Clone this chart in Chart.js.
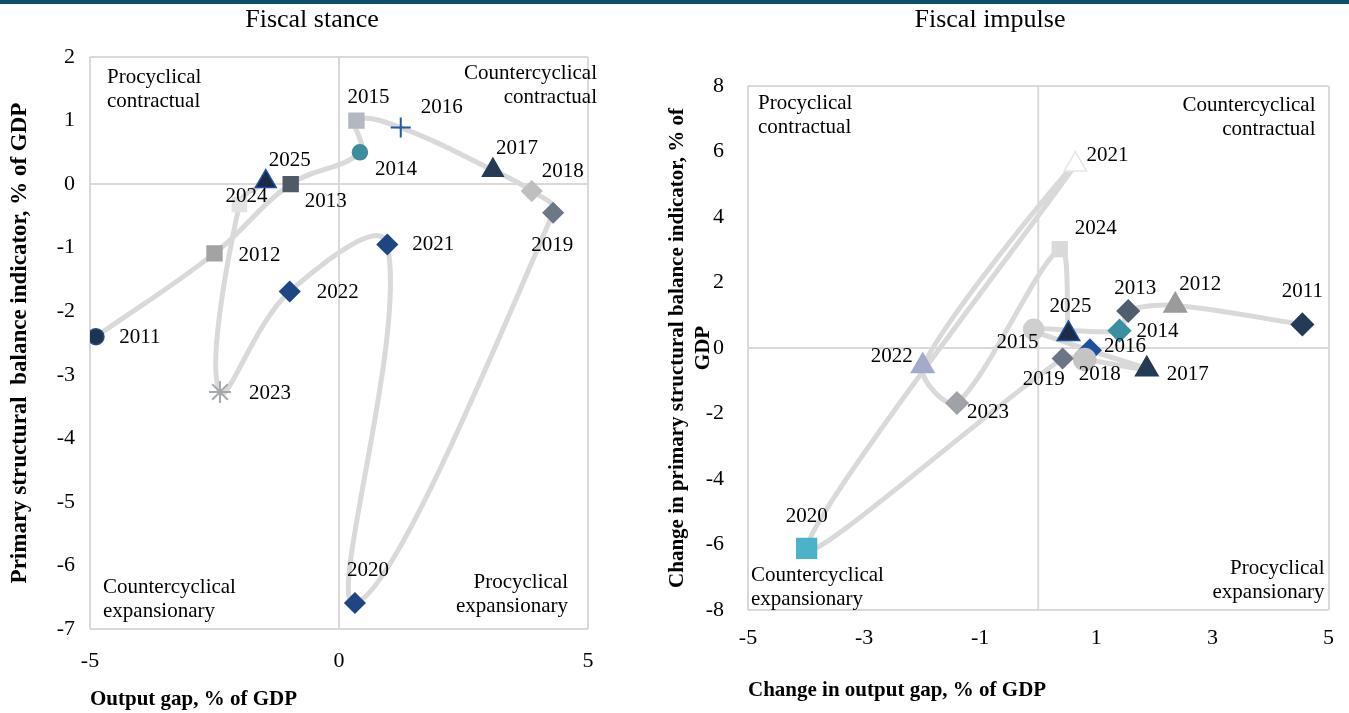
<!DOCTYPE html>
<html lang="en">
<head>
  <meta charset="UTF-8" />
  <title>Fiscal stance and fiscal impulse</title>
  <script src="https://cdn.jsdelivr.net/npm/chart.js"></script>
  <style>
    body { margin: 0; background: #fff; overflow: hidden; }
    .topbar { position: absolute; left: 0; top: 0; width: 1349px; height: 4px; background: #0d4e6c; }
    .panel { position: absolute; top: 0; height: 713px; }
    #stanceBox { left: 0; width: 624px; }
    #impulseBox { left: 632px; width: 717px; }
  </style>
</head>
<body>
  <div class="topbar"></div>
  <div class="panel" id="stanceBox"><canvas id="stanceChart"></canvas></div>
  <div class="panel" id="impulseBox"><canvas id="impulseChart"></canvas></div>

  <script>
    const years = ['2011', '2012', '2013', '2014', '2015', '2016', '2017', '2018',
                   '2019', '2020', '2021', '2022', '2023', '2024', '2025'];

    // Fiscal stance: output gap vs primary structural balance
    const stanceGap     = [-4.88, -2.50, -0.97, 0.42, 0.35, 1.24, 3.09, 3.87, 4.30, 0.32, 0.97, -0.99, -2.39, -2.00, -1.47];
    const stanceBalance = [-2.40, -1.09, 0.00, 0.50, 1.00, 0.89, 0.22, -0.11, -0.45, -6.59, -0.95, -1.69, -3.27, -0.32, 0.04];

    // Fiscal impulse: change in output gap vs change in primary structural balance
    const impulseGap     = [4.55, 2.36, 1.55, 1.40, -0.08, 0.89, 1.87, 0.80, 0.42, -3.99, 0.64, -1.99, -1.40, 0.37, 0.52];
    const impulseBalance = [0.72, 1.30, 1.13, 0.53, 0.57, -0.07, -0.65, -0.35, -0.32, -6.12, 5.60, -0.55, -1.68, 3.02, 0.43];

    // marker looks per year
    const stanceShapes = ['circle', 'rect', 'rect', 'circle', 'rect', 'cross', 'triangle', 'rectRot',
                          'rectRot', 'rectRot', 'rectRot', 'rectRot', 'star', 'rect', 'triangle'];
    const stanceFills  = ['#1e3352', '#a3a3a3', '#4f5a66', '#3b8e9e', '#b3b7bf', '#2456a6', '#253b55', '#bfbfbf',
                          '#6c7787', '#1f4585', '#1f4585', '#1f4585', '#a5a8ad', '#e3e3e3', '#1b2b46'];
    const stanceEdges  = ['#2a4a80', '#a3a3a3', '#4f5a66', '#3b8e9e', '#b3b7bf', '#2456a6', '#253b55', '#bfbfbf',
                          '#6c7787', '#1f4585', '#1f4585', '#1f4585', '#a5a8ad', '#e3e3e3', '#1f4ea0'];
    const stanceSizes  = [8, 10.5, 10.5, 7.5, 10.5, 10, 12, 10, 10, 10, 10, 10, 11, 10, 12];
    const stanceOffsets = [[44, 1], [45, 2], [35, 17], [36, 17], [12, -23], [41, -20], [24, -22], [31, -20],
                           [-1, 33], [13, -32], [46, 0], [48, 1], [50, 2], [7, -8], [24, -21]];

    const impulseShapes = ['rectRot', 'triangle', 'rectRot', 'rectRot', 'circle', 'rectRot', 'triangle', 'circle',
                           'rectRot', 'rect', 'triangle', 'triangle', 'rectRot', 'rect', 'triangle'];
    const impulseFills  = ['#253b55', '#9b9b9b', '#505d6c', '#3a8fa0', '#cfcfcf', '#1f50a0', '#243a55', '#c4c4c4',
                           '#6b7585', '#4ab3c9', '#ffffff', '#a4abca', '#9fa2a6', '#d9d9d9', '#1c2c47'];
    const impulseEdges  = ['#253b55', '#9b9b9b', '#505d6c', '#3a8fa0', '#cfcfcf', '#1f50a0', '#243a55', '#c4c4c4',
                           '#6b7585', '#4ab3c9', '#e6e6e6', '#a4abca', '#9fa2a6', '#d9d9d9', '#1f4ea0'];
    const impulseSizes  = [11, 13, 11, 11, 10, 11, 13, 11, 10, 14, 13, 13, 11, 10.5, 13];
    const impulseOffsets = [[0, -33], [25, -21], [7, -23], [38, 1], [-16, 13], [35, -4], [41, 5], [15, 15],
                            [-19, 21], [0, -32], [32, -9], [-31, -10], [31, 9], [36, -21], [2, -27]];

    Chart.defaults.font.family = "'Liberation Serif', 'Times New Roman', serif";
    Chart.defaults.color = '#000';

    // panel title, zero lines, quadrant captions and year labels
    const quadrantPlugin = {
      id: 'quadrants',
      beforeDatasetsDraw(chart) {
        const { ctx, chartArea: a, scales: { x, y } } = chart;
        const x0 = x.getPixelForValue(0), y0 = y.getPixelForValue(0);
        ctx.save();
        ctx.strokeStyle = '#d9d9d9';
        ctx.lineWidth = 2;
        ctx.beginPath();
        ctx.moveTo(x0, a.top); ctx.lineTo(x0, a.bottom);
        ctx.moveTo(a.left, y0); ctx.lineTo(a.right, y0);
        ctx.stroke();
        ctx.restore();
      },
      afterDatasetsDraw(chart, args, opts) {
        const { ctx, chartArea: a } = chart;
        ctx.save();
        ctx.fillStyle = '#000';
        ctx.textBaseline = 'middle';
        ctx.textAlign = 'center';
        ctx.font = "26px 'Liberation Serif'";
        ctx.fillText(opts.title, opts.titleX, 20);

        ctx.font = "21px 'Liberation Serif'";
        opts.corners.forEach(c => {
          ctx.textAlign = c.align;
          const bx = c.align === 'left' ? a.left : a.right;
          const by = c.top ? a.top : a.bottom;
          c.lines.forEach((t, i) => ctx.fillText(t, bx + c.dx, by + c.dy + i * 24.5));
        });
        ctx.textAlign = 'center';
        chart.getDatasetMeta(0).data.forEach((pt, i) => {
          const [dx, dy] = opts.offsets[i];
          ctx.fillText(years[i], pt.x + dx, pt.y + dy);
        });
        ctx.restore();
      }
    };

    function edgeGrid(min, max) {
      return {
        color: c => (c.tick && (c.tick.value === min || c.tick.value === max)) ? '#d9d9d9' : 'rgba(0,0,0,0)',
        lineWidth: 2,
        drawTicks: false
      };
    }

    function makeChart(id, cfg) {
      const points = cfg.gx.map((v, i) => ({ x: v, y: cfg.gy[i] }));
      return new Chart(document.getElementById(id), {
        type: 'scatter',
        data: {
          datasets: [{
            data: points,
            showLine: true,
            tension: cfg.tension,
            borderColor: '#d9d9d9',
            borderWidth: 5,
            borderCapStyle: 'round',
            borderJoinStyle: 'round',
            pointStyle: cfg.shapes,
            pointRadius: cfg.sizes,
            pointBackgroundColor: cfg.fills,
            pointBorderColor: cfg.edges,
            pointBorderWidth: cfg.shapes.map(s => (s === 'cross' || s === 'star') ? 2 : 1.5)
          }]
        },
        options: {
          responsive: true,
          maintainAspectRatio: false,
          animation: false,
          events: [],
          layout: { padding: { top: cfg.padTop, left: 0, right: cfg.padRight, bottom: 0 } },
          plugins: {
            legend: { display: false },
            tooltip: { enabled: false },
            title: { display: false },
            quadrants: { title: cfg.title, titleX: cfg.titleX, corners: cfg.corners, offsets: cfg.offsets }
          },
          scales: {
            x: {
              type: 'linear',
              min: cfg.xMin, max: cfg.xMax,
              ticks: { stepSize: cfg.xStep, padding: cfg.xPad, font: { size: 22 } },
              grid: edgeGrid(cfg.xMin, cfg.xMax),
              border: { display: false },
              title: {
                display: true, text: cfg.xTitle, align: 'start',
                font: { size: 21, weight: 'bold' },
                padding: { top: 0, bottom: cfg.xTitlePad }
              },
              afterFit: s => { s.height = cfg.xHeight; }
            },
            y: {
              type: 'linear',
              min: cfg.yMin, max: cfg.yMax,
              ticks: { stepSize: cfg.yStep, padding: cfg.yPad, font: { size: 22 } },
              grid: edgeGrid(cfg.yMin, cfg.yMax),
              border: { display: false },
              title: {
                display: true, text: cfg.yTitle,
                font: { size: cfg.yTitleSize, weight: 'bold', lineHeight: 1.25 },
                padding: { top: cfg.yTitlePad, bottom: 0 }
              },
              afterFit: s => { s.width = cfg.yWidth; }
            }
          }
        },
        plugins: [quadrantPlugin]
      });
    }

    makeChart('stanceChart', {
      title: 'Fiscal stance', titleX: 312,
      gx: stanceGap, gy: stanceBalance, tension: 0.4,
      shapes: stanceShapes, fills: stanceFills, edges: stanceEdges, sizes: stanceSizes,
      offsets: stanceOffsets,
      xMin: -5, xMax: 5, xStep: 5, yMin: -7, yMax: 2, yStep: 1,
      xTitle: 'Output gap, % of GDP',
      yTitle: 'Primary structural  balance indicator, % of GDP', yTitleSize: 23,
      padTop: 57, padRight: 36, xHeight: 84, yWidth: 90,
      xPad: 19, yPad: 15, xTitlePad: 1, yTitlePad: 6,
      corners: [
        { align: 'left', top: true, dx: 17, dy: 20, lines: ['Procyclical', 'contractual'] },
        { align: 'right', top: true, dx: 9, dy: 16, lines: ['Countercyclical', 'contractual'] },
        { align: 'left', top: false, dx: 13, dy: -42, lines: ['Countercyclical', 'expansionary'] },
        { align: 'right', top: false, dx: -20, dy: -47, lines: ['Procyclical', 'expansionary'] }
      ]
    });

    makeChart('impulseChart', {
      title: 'Fiscal impulse', titleX: 358,
      gx: impulseGap, gy: impulseBalance, tension: 0.3,
      shapes: impulseShapes, fills: impulseFills, edges: impulseEdges, sizes: impulseSizes,
      offsets: impulseOffsets,
      xMin: -5, xMax: 5, xStep: 2, yMin: -8, yMax: 8, yStep: 2,
      xTitle: 'Change in output gap, % of GDP',
      yTitle: ['Change in primary structural balance indicator, % of', 'GDP'], yTitleSize: 21,
      padTop: 86, padRight: 6, xHeight: 103, yWidth: 116,
      xPad: 15, yPad: 24, xTitlePad: 10, yTitlePad: 32,
      corners: [
        { align: 'left', top: true, dx: 10, dy: 17, lines: ['Procyclical', 'contractual'] },
        { align: 'right', top: true, dx: -13, dy: 19, lines: ['Countercyclical', 'contractual'] },
        { align: 'left', top: false, dx: 3, dy: -35, lines: ['Countercyclical', 'expansionary'] },
        { align: 'right', top: false, dx: -4, dy: -42, lines: ['Procyclical', 'expansionary'] }
      ]
    });
  </script>
</body>
</html>
